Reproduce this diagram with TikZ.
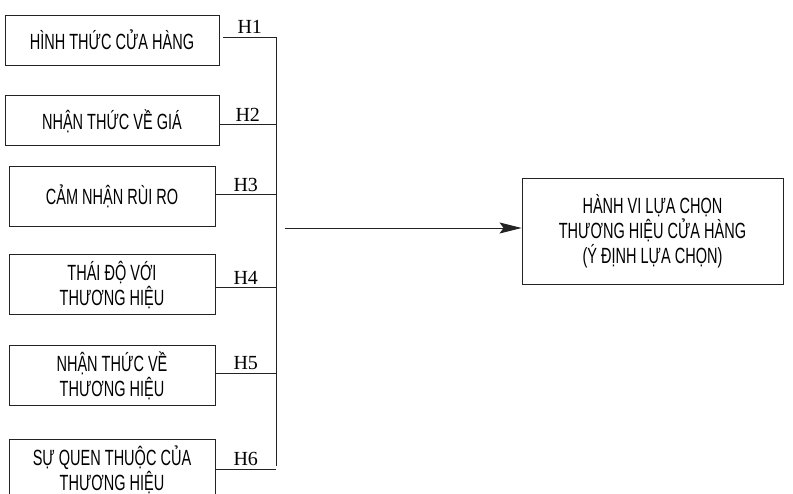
\documentclass[tikz,border=0pt]{standalone}
\usepackage{fontspec}
\usepackage{tikz}
\usetikzlibrary{positioning,calc,arrows.meta}
\newfontfamily\boxfont[FakeStretch=0.66]{Liberation Sans}
\newfontfamily\hfont{Liberation Serif}
\definecolor{linegray}{RGB}{35,35,35}

\begin{document}
\begin{tikzpicture}[
        x=1pt, y=-1pt,
        node distance=30pt,
        factor/.style={draw=linegray, line width=0.9pt, minimum width=206pt, minimum height=60pt, align=center, inner sep=2pt, font=\boxfont\fontsize{22}{25}\selectfont},
        wide/.style={factor, minimum width=214pt, minimum height=50pt},
        outcome/.style={factor, minimum width=261pt, minimum height=106pt},
        hlabel/.style={above, inner sep=3pt, font=\hfont\fontsize{20}{22}\selectfont},
        link/.style={draw=linegray, line width=0.9pt},
        arrow/.style={-{Stealth[length=22pt,width=11pt,inset=4pt]}, line width=0.9pt, linegray}
    ]
        \useasboundingbox (0,0) rectangle (793,494);

        % Nodes
        \node (store) [wide] at (112,40) {HÌNH THỨC CỬA HÀNG};
        \node (price) [wide, below=30pt of store] {NHẬN THỨC VỀ GIÁ};
        \node (risk) [factor, below=20pt of price] {CẢM NHẬN RÙI RO};
        \node (attitude) [factor, below=27pt of risk] {THÁI ĐỘ VỚI\\THƯƠNG HIỆU};
        \node (awareness) [factor, below=30pt of attitude] {NHẬN THỨC VỀ\\THƯƠNG HIỆU};
        \node (familiar) [factor, below=33pt of awareness] {SỰ QUEN THUỘC CỦA\\THƯƠNG HIỆU};
        \node (choice) [outcome] at (652.5,231) {HÀNH VI LỰA CHỌN\\THƯƠNG HIỆU CỬA HÀNG\\(Ý ĐỊNH LỰA CHỌN)};

        % Bus
        \coordinate (bus top) at (276,37);
        \coordinate (bus bottom) at (276,466);
        \coordinate (bus out) at (285,228);
        \draw [link] (bus top) -- (bus bottom);

        % Hypotheses
        \coordinate (h1) at ($(store.east)+(4,-3)$);
        \coordinate (h2) at ($(price.east)+(0,4)$);
        \coordinate (h3) at ($(risk.east)+(0,-2)$);
        \coordinate (h4) at ($(attitude.east)+(0,3)$);
        \coordinate (h5) at ($(awareness.east)+(0,-2)$);
        \coordinate (h6) at (familiar.east);
        \foreach \i in {1,...,6}
            \draw [link] (h\i) -- node [hlabel] {H\i} (h\i -| bus top);

        % Arrow
        \draw [arrow] (bus out) -- (choice.west |- bus out);
    \end{tikzpicture}
\end{document}
